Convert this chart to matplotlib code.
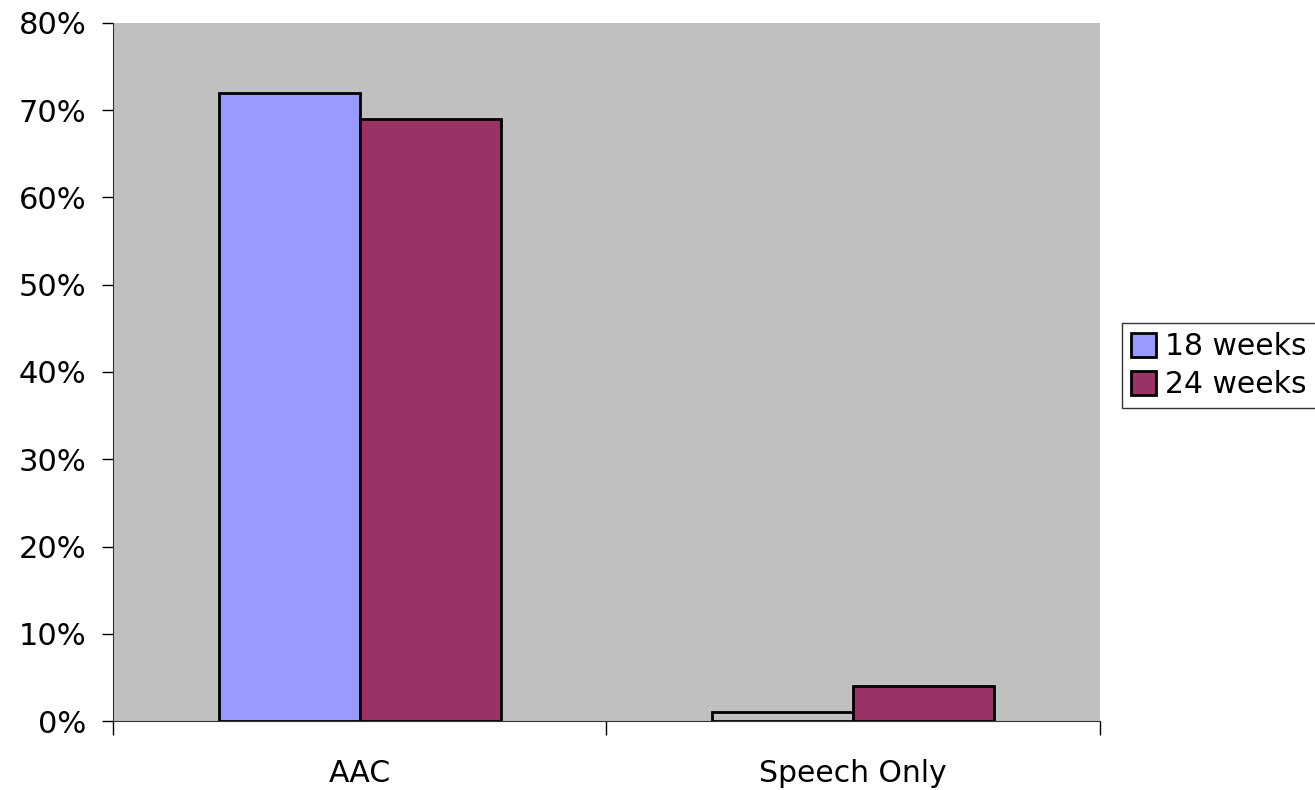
import matplotlib.pyplot as plt
from matplotlib.ticker import PercentFormatter, FixedLocator
import numpy as np

categories = ['AAC', 'Speech Only']
weeks_18 = [72, 1]
weeks_24 = [69, 4]
series_labels = ['18 weeks', '24 weeks']

fig = plt.figure(figsize=(13.15, 7.9), dpi=100)
ax = fig.add_axes([0.0859, 0.0873, 0.7506, 0.8837])
ax.set_facecolor('#C0C0C0')

x = np.arange(len(categories))
w = 0.286
b1 = ax.bar(x - w / 2, weeks_18, w, color='#9999FF', edgecolor='black', linewidth=2,
            label=series_labels[0])
b2 = ax.bar(x + w / 2, weeks_24, w, color='#993366', edgecolor='black', linewidth=2,
            label=series_labels[1])
# the tiny speech-only bar shows up in plain gray
b1[1].set_facecolor('#C0C0C0')

ax.set_xlim(-0.5, 1.5)
ax.set_ylim(0, 80)
ax.set_yticks(range(0, 81, 10))
ax.yaxis.set_major_formatter(PercentFormatter(decimals=0))
ax.set_xticks(x)
ax.set_xticklabels(categories)
ax.xaxis.set_minor_locator(FixedLocator([-0.5, 0.5, 1.5]))
ax.tick_params(axis='x', which='major', length=0, pad=27, labelsize=21.5)
ax.tick_params(axis='x', which='minor', length=10, direction='out', width=1)
ax.tick_params(axis='y', length=8, direction='out', width=1, labelsize=22, pad=11)

for s in ['top', 'right']:
    ax.spines[s].set_visible(False)
ax.spines['left'].set_color('#333333')
ax.spines['bottom'].set_color('#333333')

leg = fig.legend(handles=[b1[0], b2], labels=series_labels, loc='upper left',
                 bbox_to_anchor=(0.853, 0.591), fontsize=21.5, frameon=True,
                 fancybox=False, edgecolor='black', handlelength=0.85,
                 handleheight=0.85, handletextpad=0.3, borderpad=0.3,
                 labelspacing=0.3, borderaxespad=0)
leg.get_frame().set_linewidth(1)
leg.legend_handles[0].set_facecolor('#9999FF')

fig.savefig('out.png', dpi=100)
